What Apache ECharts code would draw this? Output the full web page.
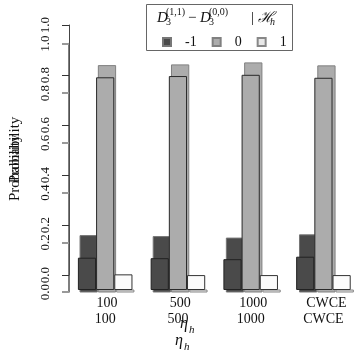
<!DOCTYPE html>
<html>
<head>
    <title>Probability</title>
    <meta charset="utf-8"/>
    <script src="https://cdn.jsdelivr.net/npm/echarts@6/dist/echarts.min.js"></script>
    <style>
        html, body { margin: 0; padding: 0; background: #fff; }
        #main { width: 363px; height: 360px; }
    </style>
</head>
<body>
<div id="main"></div>
<script type="text/javascript">
    let groups = ['100', '500', '1000', 'CWCE'];
    let levels = ['-1', '0', '1'];
    // front layer (black outlines)
    let frontDark = [0.130, 0.128, 0.124, 0.134];
    let frontMid = [0.856, 0.861, 0.866, 0.854];
    let frontLight = [0.063, 0.060, 0.060, 0.060];
    // back layer (grey outlines, slightly shifted)
    let backDark = [0.231, 0.227, 0.221, 0.234];
    let backMid = [0.915, 0.918, 0.926, 0.914];
    let backLight = [0.012, 0.012, 0.012, 0.012];

    let serif = "'Liberation Serif', 'DejaVu Serif', serif";
    let fills = ['#4a4a4a', '#acacac', '#e8e8e8'];

    let chart = echarts.init(document.getElementById('main'));

    let tickLabel = {
        show: true, rotate: 90, margin: 17,
        fontFamily: serif, fontSize: 13, color: '#111',
        formatter: function (v) { return v.toFixed(1); }
    };

    let barSeries = function (name, data, idx, color, border, z) {
        return {
            name: name,
            type: 'bar',
            xAxisIndex: idx,
            yAxisIndex: idx,
            data: data,
            barGap: 0,
            barCategoryGap: '25%',
            z: z,
            itemStyle: {color: color, borderColor: border, borderWidth: 1},
            emphasis: {disabled: true}
        };
    };

    let txt = function (s, x, y, size, italic) {
        return {
            type: 'text', x: x, y: y, z: 100,
            style: {
                text: s, fontFamily: serif, fontSize: size,
                fontStyle: italic ? 'italic' : 'normal',
                fill: '#111', verticalAlign: 'middle'
            }
        };
    };

    chart.setOption({
        animation: false,
        grid: [
            {left: 68, top: 25, width: 291, height: 250},
            {left: 68, top: 43.5, width: 291, height: 248.5},
            {left: 70.4, top: 44, width: 296.8, height: 248.5},
            {left: 68.8, top: 41.5, width: 291, height: 248.5}
        ],
        xAxis: [
            {gridIndex: 0, type: 'category', data: groups, show: false},
            {gridIndex: 1, type: 'category', data: groups, show: false},
            {gridIndex: 2, type: 'category', data: groups,
                axisLine: {show: false}, axisTick: {show: false},
                axisLabel: {margin: 4, fontFamily: serif, fontSize: 14, color: '#111'}},
            {gridIndex: 3, type: 'category', data: groups,
                axisLine: {show: false}, axisTick: {show: false},
                axisLabel: {margin: 22, fontFamily: serif, fontSize: 14, color: '#111'}}
        ],
        yAxis: [
            {gridIndex: 0, type: 'value', min: 0, max: 1, interval: 0.2,
                axisLine: {show: true, lineStyle: {color: '#444', width: 1}},
                axisTick: {show: true, length: 7, lineStyle: {color: '#333'}},
                axisLabel: tickLabel,
                splitLine: {show: false},
                name: 'Probability', nameLocation: 'middle', nameGap: 46,
                nameTextStyle: {fontFamily: serif, fontSize: 15, color: '#111'}},
            {gridIndex: 1, type: 'value', min: 0, max: 1, interval: 0.2,
                axisLine: {show: true, lineStyle: {color: '#555', width: 1.5}},
                axisTick: {show: true, length: 7, lineStyle: {color: '#999', width: 2}},
                axisLabel: tickLabel,
                splitLine: {show: false},
                name: 'Probability', nameLocation: 'middle', nameGap: 46,
                nameTextStyle: {fontFamily: serif, fontSize: 15, color: '#111'}},
            {gridIndex: 2, type: 'value', min: 0, max: 1, show: false},
            {gridIndex: 3, type: 'value', min: 0, max: 1, show: false}
        ],
        legend: {
            data: levels,
            left: 157, top: 30, z: 20,
            icon: 'rect',
            itemWidth: 8, itemHeight: 8, itemGap: 15,
            selectedMode: false,
            textStyle: {fontFamily: serif, fontSize: 14, color: '#111', padding: [0, 0, 0, 9]}
        },
        graphic: [
            {type: 'rect', left: 146, top: 4, z: 0,
                shape: {width: 146, height: 46},
                style: {fill: '#fff', stroke: '#666', lineWidth: 1}},
            txt('D', 157, 18, 15, true),
            txt('(1,1)', 166, 12, 10, false),
            txt('3', 166, 22, 10, false),
            txt('\u2212', 188, 18, 15, false),
            txt('D', 200, 18, 15, true),
            txt('(0,0)', 209, 12, 10, false),
            txt('3', 209, 22, 10, false),
            txt('|', 251, 18, 15, false),
            txt('\u210B', 258, 18, 15, true),
            txt('h', 270, 22, 10, true),
            txt('\u03B7', 175, 341, 16, true),
            txt('h', 184, 347, 11, true),
            txt('\u03B7', 180, 324, 16, true),
            txt('h', 189, 330, 11, true)
        ],
        series: [
            barSeries('-1', backDark, 2, fills[0], '#777', 1),
            barSeries('0', backMid, 2, fills[1], '#808080', 1),
            barSeries('1', backLight, 2, fills[2], '#888', 1),
            barSeries('-1', frontDark, 3, fills[0], '#222', 2),
            barSeries('0', frontMid, 3, fills[1], '#2a2a2a', 2),
            barSeries('1', frontLight, 3, '#fbfbfb', '#333', 2)
        ]
    });
</script>
</body>
</html>
